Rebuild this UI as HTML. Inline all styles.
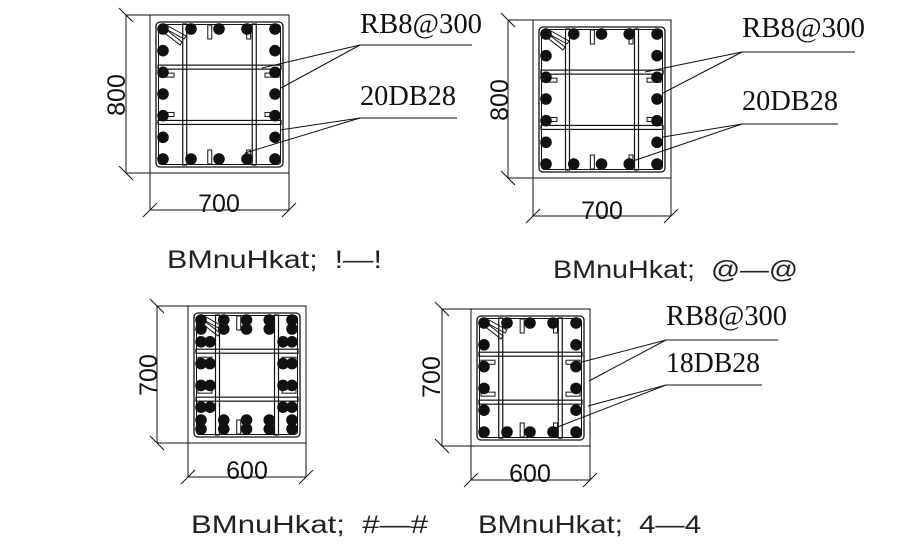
<!DOCTYPE html>
<html><head><meta charset="utf-8"><style>
html,body{margin:0;padding:0;background:#fff;}
svg{display:block;}
.serif{font-family:"Liberation Serif",serif;font-size:29px;fill:#111;}
.dim{font-family:"Liberation Sans",sans-serif;font-size:25px;fill:#111;}
.cap{font-family:"Liberation Sans",sans-serif;font-size:25px;fill:#222;}
</style></head><body>
<svg id="s" width="908" height="553" viewBox="0 0 908 553" xmlns="http://www.w3.org/2000/svg">
<g id="g" stroke="#111" stroke-width="1" fill="none"></g>
<text class="serif" x="360" y="33" textLength="122" lengthAdjust="spacingAndGlyphs">RB8@300</text>
<text class="serif" x="360" y="105" textLength="96" lengthAdjust="spacingAndGlyphs">20DB28</text>
<text class="serif" x="742" y="37" textLength="123" lengthAdjust="spacingAndGlyphs">RB8@300</text>
<text class="serif" x="742" y="110" textLength="96" lengthAdjust="spacingAndGlyphs">20DB28</text>
<text class="serif" x="666" y="325" textLength="121" lengthAdjust="spacingAndGlyphs">RB8@300</text>
<text class="serif" x="666" y="372" textLength="94" lengthAdjust="spacingAndGlyphs">18DB28</text>
<text class="dim" x="219" y="212" text-anchor="middle">700</text>
<text class="dim" x="602" y="219" text-anchor="middle">700</text>
<text class="dim" x="247" y="479" text-anchor="middle">600</text>
<text class="dim" x="530" y="482" text-anchor="middle">600</text>
<text class="dim" transform="translate(125,95) rotate(-90)" text-anchor="middle">800</text>
<text class="dim" transform="translate(508,100) rotate(-90)" text-anchor="middle">800</text>
<text class="dim" transform="translate(157,375) rotate(-90)" text-anchor="middle">700</text>
<text class="dim" transform="translate(440,377) rotate(-90)" text-anchor="middle">700</text>
<text class="cap" x="167" y="268" textLength="215" lengthAdjust="spacingAndGlyphs" xml:space="preserve">BMnuHkat;  !—!</text>
<text class="cap" x="553" y="278" textLength="245" lengthAdjust="spacingAndGlyphs" xml:space="preserve">BMnuHkat;  @—@</text>
<text class="cap" x="191" y="533" textLength="237" lengthAdjust="spacingAndGlyphs" xml:space="preserve">BMnuHkat;  #—#</text>
<text class="cap" x="478" y="533" textLength="223" lengthAdjust="spacingAndGlyphs" xml:space="preserve">BMnuHkat;  4—4</text>
</svg>
<script>
var g=document.getElementById('g'),NS='http://www.w3.org/2000/svg';
function el(t,a){var e=document.createElementNS(NS,t);for(var k in a)e.setAttribute(k,a[k]);g.appendChild(e);return e;}
function L(x1,y1,x2,y2,w){el('line',{x1:x1,y1:y1,x2:x2,y2:y2,'stroke-width':w||1});}
function C(x,y,r){el('circle',{cx:x,cy:y,r:r||5.8,fill:'#111',stroke:'none'});}
function sec(x0,y0,x1,y1,dx,dy,nrows,dbl){
  el('rect',{x:x0,y:y0,width:x1-x0,height:y1-y0});
  L(dx,y0,x0,y0);L(dx,y1,x0,y1);L(dx,y0,dx,y1);
  L(dx-7,y0-7,dx+7,y0+7);L(dx-7,y1-7,dx+7,y1+7);
  L(x0,y1,x0,dy);L(x1,y1,x1,dy);L(x0,dy,x1,dy);
  L(x0-7,dy+7,x0+7,dy-7);L(x1-7,dy+7,x1+7,dy-7);
  var sx0=x0+6,sy0=y0+7,sx1=x1-6,sy1=y1-6;
  el('rect',{x:sx0,y:sy0,width:sx1-sx0,height:sy1-sy0,rx:4,'stroke-width':1.3});
  el('rect',{x:sx0+2.5,y:sy0+2.5,width:sx1-sx0-5,height:sy1-sy0-5,rx:3,'stroke-width':1});
  var W=x1-x0,H=y1-y0;
  var tx1=x0+W*0.25,tx2=x1-W*0.25;
  el('rect',{x:tx1-2,y:sy0+2,width:4,height:sy1-sy0-4,'stroke-width':1.2});
  el('rect',{x:tx2-2,y:sy0+2,width:4,height:sy1-sy0-4,'stroke-width':1.2});
  var ty1=y0+H*0.33,ty2=y0+H*0.68;
  el('rect',{x:sx0+2,y:ty1-2,width:sx1-sx0-4,height:4,'stroke-width':1.2});
  el('rect',{x:sx0+2,y:ty2-2,width:sx1-sx0-4,height:4,'stroke-width':1.2});
  var hx=[x0+W*0.43,x0+W*0.71];
  hx.forEach(function(h){el('rect',{x:h-2,y:sy0+3,width:4,height:14});el('rect',{x:h-2,y:sy1-17,width:4,height:14});});
  [ty1+8,ty2-8].forEach(function(h){el('rect',{x:sx0+4,y:h-2,width:14,height:4});el('rect',{x:sx1-18,y:h-2,width:14,height:4});});
  el('polygon',{points:(sx0+8)+','+(sy0+6)+' '+(sx0+26)+','+(sy0+20)+' '+(sx0+24)+','+(sy0+23)+' '+(sx0+6)+','+(sy0+9)});
  el('polygon',{points:(sx0+12)+','+(sy0+4)+' '+(sx0+30)+','+(sy0+14)+' '+(sx0+28)+','+(sy0+17)+' '+(sx0+10)+','+(sy0+7)});
  var bx0=x0+13,bx1=x1-14,by0=y0+14,by1=y1-14;
  var cols=[0,0.25,0.5,0.75,1].map(function(f){return bx0+(bx1-bx0)*f;});
  var rows=[];for(var i=0;i<nrows;i++)rows.push(by0+(by1-by0)*i/(nrows-1));
  cols.forEach(function(cx){C(cx,by0);C(cx,by1);if(dbl){C(cx,by0+9);C(cx,by1-9);}});
  rows.slice(1,-1).forEach(function(ry){C(bx0,ry);C(bx1,ry);if(dbl){C(bx0+9,ry);C(bx1-9,ry);}});
}
sec(150,15,289,173,126,210,7,false);
sec(533,20,671,178,508,216,7,false);
sec(188,306,306,443,157,477,6,true);
sec(471,309,590,446,442,480,6,false);
function ld(x,y,ux,pts){L(x,y,ux,y);pts.forEach(function(p){L(x,y,p[0],p[1]);});}
ld(360,45,472,[[262,68],[281,88]]);
ld(360,118,457,[[280,130],[245,153]]);
ld(742,52,855,[[645,72],[663,93]]);
ld(742,124,838,[[663,137],[630,162]]);
ld(666,340,778,[[582,362],[589,381]]);
ld(666,385,762,[[588,406],[555,428]]);
</script>
</body></html>
